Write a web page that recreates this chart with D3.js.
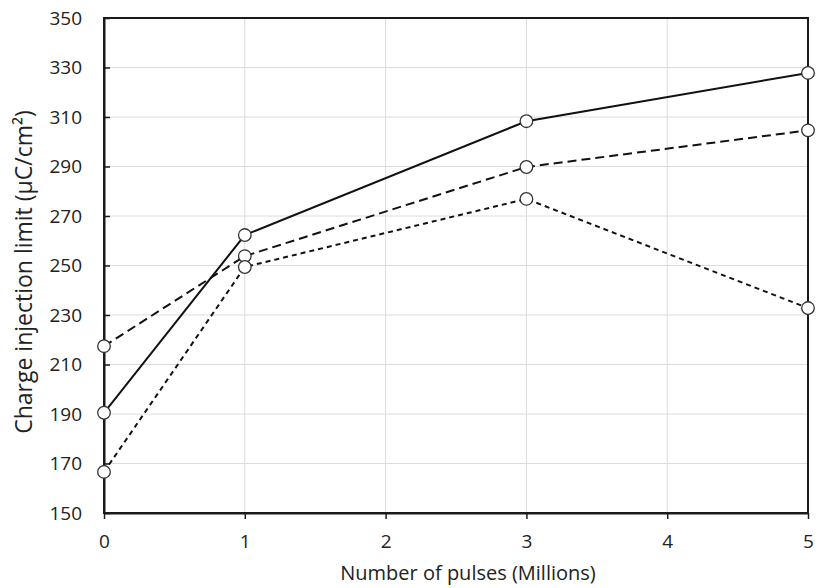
<!DOCTYPE html>
<html>
<head>
<meta charset="utf-8">
<script src="https://cdn.jsdelivr.net/npm/d3@7"></script>
<style>
  body { margin: 0; background: #fff; }
  svg { font-family: "Open Sans", Calibri, sans-serif; }
</style>
</head>
<body>
<svg id="chart" width="816" height="588"></svg>
<script>
const pulses = [0, 1, 3, 5];
const solidSeries = [190.5, 262.3, 308.3, 327.8];
const longDashSeries = [217.4, 253.8, 289.8, 304.6];
const shortDashSeries = [166.6, 249.4, 276.9, 232.8];
const xTicks = [0, 1, 2, 3, 4, 5];
const yTicks = [150, 170, 190, 210, 230, 250, 270, 290, 310, 330, 350];

const svg = d3.select('#chart');
const margin = {top: 18, right: 8, bottom: 75, left: 104};
const width = +svg.attr('width') - margin.left - margin.right;
const height = +svg.attr('height') - margin.top - margin.bottom;

const x = d3.scaleLinear().domain([0, 5]).range([0, width]);
const y = d3.scaleLinear().domain([150, 350]).range([height, 0]);

const g = svg.append('g').attr('transform', 'translate(' + margin.left + ',' + margin.top + ')');

// gridlines
g.selectAll('.hgrid').data(yTicks).enter().append('line')
  .attr('x1', 0).attr('x2', width)
  .attr('y1', d => y(d)).attr('y2', d => y(d))
  .attr('stroke', '#dcdcdc').attr('stroke-width', 1);
g.selectAll('.vgrid').data(xTicks).enter().append('line')
  .attr('x1', d => x(d)).attr('x2', d => x(d))
  .attr('y1', 0).attr('y2', height)
  .attr('stroke', '#dcdcdc').attr('stroke-width', 1);

// frame
g.append('rect').attr('x', 0).attr('y', 0).attr('width', width).attr('height', height)
  .attr('fill', 'none').attr('stroke', '#1a1a1a').attr('stroke-width', 2);

// axes
const yAxis = g.append('g')
  .call(d3.axisLeft(y).tickValues(yTicks).tickFormat(d3.format('d'))
    .tickSizeInner(-6).tickSizeOuter(0).tickPadding(22));
const xAxis = g.append('g').attr('transform', 'translate(0,' + height + ')')
  .call(d3.axisBottom(x).tickValues(xTicks).tickFormat(d3.format('d'))
    .tickSizeInner(6).tickSizeOuter(0).tickPadding(16));
[yAxis, xAxis].forEach(a => {
  a.select('.domain').attr('stroke', '#1a1a1a').attr('stroke-width', 2);
  a.selectAll('.tick line').attr('stroke', '#1a1a1a').attr('stroke-width', 1.5);
  a.selectAll('.tick text').attr('fill', '#222').style('font-size', '19px')
    .style('font-family', '"Open Sans", Calibri, sans-serif');
});

// series
const line = d3.line().x((d, i) => x(pulses[i])).y(d => y(d));
const series = [
  {values: solidSeries, dash: null},
  {values: longDashSeries, dash: '9,5'},
  {values: shortDashSeries, dash: '5,4'}
];
series.forEach(s => {
  g.append('path').datum(s.values)
    .attr('d', line)
    .attr('fill', 'none')
    .attr('stroke', '#111')
    .attr('stroke-width', 2)
    .attr('stroke-dasharray', s.dash);
});
series.forEach(s => {
  g.selectAll(null).data(s.values).enter().append('circle')
    .attr('cx', (d, i) => x(pulses[i]))
    .attr('cy', d => y(d))
    .attr('r', 6.3)
    .attr('fill', '#fff')
    .attr('stroke', '#333')
    .attr('stroke-width', 1.3);
});

// axis titles
svg.append('text')
  .attr('x', 468)
  .attr('y', 580)
  .attr('text-anchor', 'middle')
  .style('font-size', '20px')
  .attr('fill', '#222')
  .text('Number of pulses (Millions)');

svg.append('text')
  .attr('transform', 'translate(32,272) rotate(-90)')
  .attr('text-anchor', 'middle')
  .style('font-size', '23px')
  .attr('fill', '#222')
  .text('Charge injection limit (μC/cm²)');
</script>
</body>
</html>
